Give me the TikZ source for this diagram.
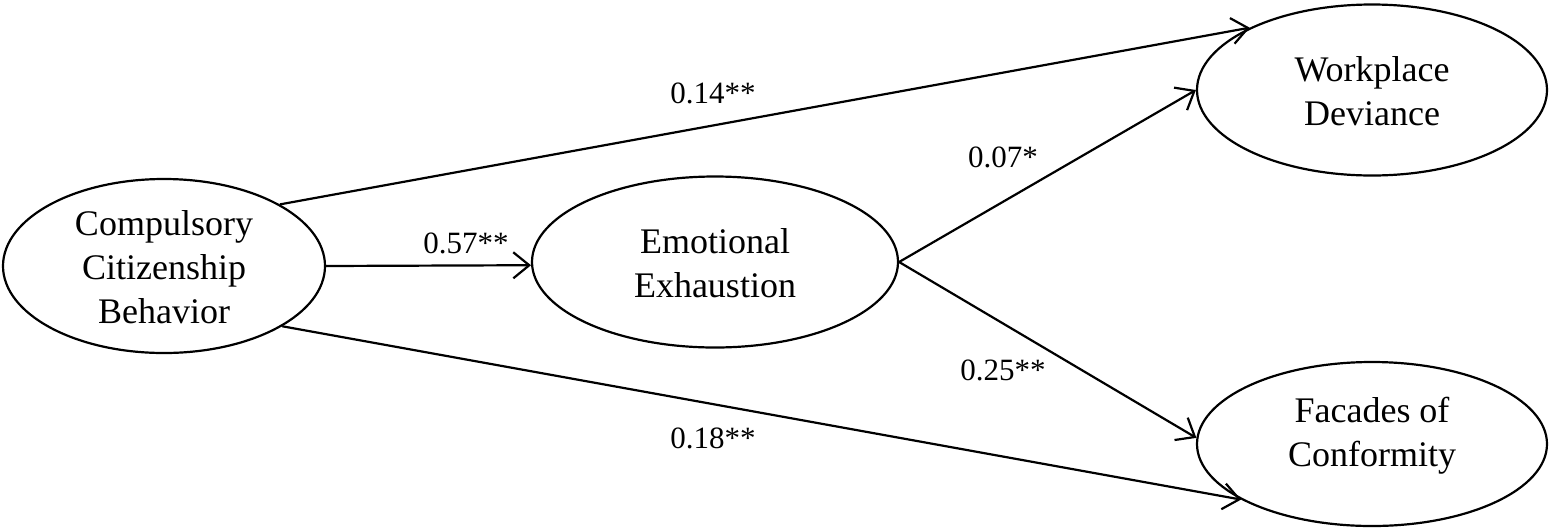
\documentclass[tikz,border=0pt]{standalone}
\usepackage{fontspec}
\setmainfont{Liberation Serif}
\usetikzlibrary{shapes.geometric,arrows.meta}
\tikzset{
  latent/.style={draw, ellipse, line width=2.2pt, inner sep=0pt},
  lattext/.style={align=center, font=\fontsize{36}{44}\selectfont, inner sep=0pt},
  path/.style={line width=2.2pt, -{Straight Barb[length=16pt,width=26pt,line width=2.2pt]}},
  coef/.style={font=\fontsize{31}{33}\selectfont, anchor=base, inner sep=0pt}
}
\begin{document}
\begin{tikzpicture}[x=1pt,y=-1pt]
\useasboundingbox (0,0) rectangle (1550,531);
\node[latent, minimum width=322pt, minimum height=174pt] (ccb) at (164,266) {};
\node[latent, minimum width=366pt, minimum height=171pt] (ee) at (715,262) {};
\node[latent, minimum width=350pt, minimum height=171pt] (wd) at (1372,90) {};
\node[latent, minimum width=350pt, minimum height=164pt] (fc) at (1372,444) {};
\node[lattext] (ccbt) at (164,267) {Compulsory\\Citizenship\\Behavior};
\node[lattext] (eet) at (715,263) {Emotional\\Exhaustion};
\node[lattext] (wdt) at (1372,91) {Workplace\\Deviance};
\node[lattext, yshift=4pt] (fct) at (1372,440) {Facades of\\Conformity};
\draw[path] (ccb.28.5) -- (wd.153.6);
\draw[path] (ccb.0) -- (ee.181.3);
\draw[path] (ccb.-27.7) -- (fc.203.8);
\draw[path] (ee.0) -- (wd.180);
\draw[path] (ee.0) -- (fc.178);
\node[coef] (c1) at (713,103) {0.14**};
\node[coef] (c2) at (466,253) {0.57**};
\node[coef] (c3) at (1003,167) {0.07*};
\node[coef] (c4) at (1003,380) {0.25**};
\node[coef] (c5) at (713,448) {0.18**};
\end{tikzpicture}
\end{document}
